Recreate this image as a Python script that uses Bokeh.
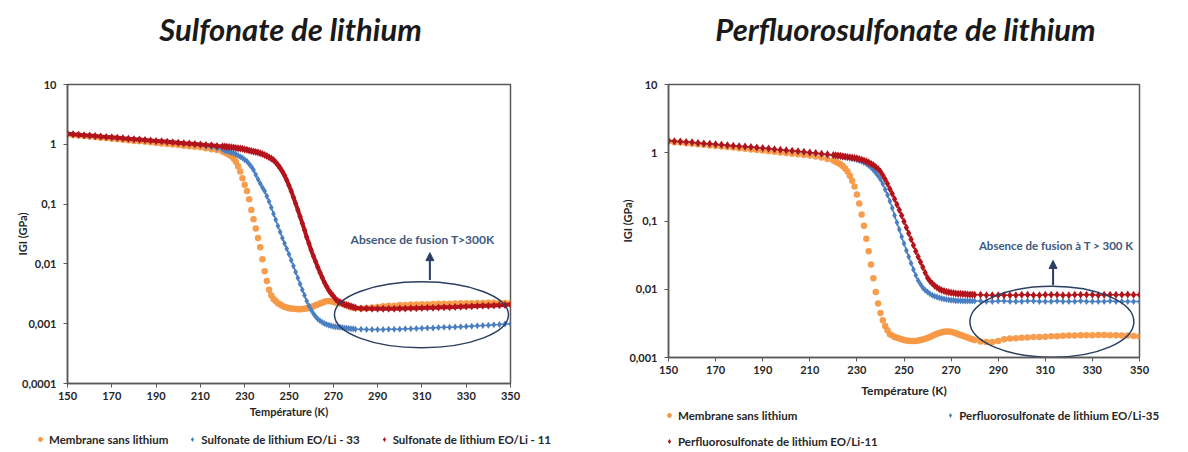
import math
from bokeh.plotting import figure
from bokeh.models import (Label, Legend, LegendItem, FixedTicker, Arrow, NormalHead,
                          ColumnDataSource, Range1d)
from bokeh.layouts import row, column
from bokeh.embed import file_html
from bokeh.resources import INLINE

FONT = "Lato"

# ---------------- data ----------------
temperature_K = (
    [150, 152.5, 155, 157.5, 160, 162.5, 165, 167.5, 170, 172.5, 175, 177.5, 180, 182.5,
     185, 187.5, 190, 192.5, 195, 197.5, 200, 202.5, 205, 207.5, 210, 212.5, 215, 217.5, 220]
    + [221, 222, 223, 224, 225, 226, 227, 228, 229, 230,
       231, 232, 233, 234, 235, 236, 237, 238, 239, 240,
       241, 242, 243, 244, 245, 246, 247, 248, 249, 250,
       251, 252, 253, 254, 255, 256, 257, 258, 259, 260,
       261, 262, 263, 264, 265, 266, 267, 268, 269, 270,
       271, 272, 273, 274, 275, 276, 277, 278, 279, 280]
    + [282.5, 285, 287.5, 290, 292.5, 295, 297.5, 300, 302.5, 305, 307.5, 310, 312.5, 315,
       317.5, 320, 322.5, 325, 327.5, 330, 332.5, 335, 337.5, 340, 342.5, 345, 347.5, 350]
)

# --- Sulfonate de lithium (left) ---
membrane_sulf = (
    [1.46, 1.43, 1.40, 1.37, 1.35, 1.32, 1.29, 1.27, 1.24, 1.22, 1.19, 1.17, 1.14, 1.12,
     1.10, 1.08, 1.05, 1.03, 1.01, 0.99, 0.97, 0.95, 0.93, 0.91, 0.89, 0.86, 0.83, 0.80, 0.76]
    + [0.73, 0.70, 0.67, 0.63, 0.58, 0.51, 0.43, 0.35, 0.27, 0.21,
       0.165, 0.12, 0.08, 0.056, 0.039, 0.027, 0.019, 0.012, 0.0075, 0.0052,
       0.0037, 0.003, 0.0026, 0.0024, 0.0022, 0.0021, 0.002, 0.0019, 0.00186, 0.00182,
       0.0018, 0.00178, 0.00176, 0.00175, 0.00175, 0.00176, 0.00178, 0.00181, 0.00185, 0.0019,
       0.00196, 0.00203, 0.0021, 0.00217, 0.00225, 0.00232, 0.00238, 0.0024, 0.00238, 0.00232,
       0.00227, 0.00223, 0.0022, 0.00215, 0.0021, 0.00203, 0.00195, 0.00188, 0.00184, 0.00182]
    + [0.0018, 0.00182, 0.00186, 0.0019, 0.00195, 0.002, 0.002, 0.00205, 0.00205, 0.0021,
       0.0021, 0.00212, 0.00212, 0.00214, 0.00215, 0.00215, 0.00216, 0.00218, 0.0022, 0.0022,
       0.0022, 0.00222, 0.00222, 0.00223, 0.00224, 0.00224, 0.00222, 0.0022]
)
sulf_eo33 = (
    [1.48, 1.46, 1.43, 1.41, 1.38, 1.36, 1.34, 1.31, 1.29, 1.27, 1.25, 1.23, 1.21, 1.19,
     1.17, 1.15, 1.13, 1.11, 1.09, 1.07, 1.05, 1.03, 1.01, 0.98, 0.96, 0.93, 0.90, 0.86, 0.82]
    + [0.79, 0.77, 0.75, 0.73, 0.71, 0.68, 0.65, 0.62, 0.59, 0.55,
       0.52, 0.47, 0.42, 0.37, 0.31, 0.26, 0.22, 0.19, 0.165, 0.135,
       0.11, 0.088, 0.069, 0.055, 0.043, 0.034, 0.027, 0.022, 0.018, 0.0145,
       0.0115, 0.0092, 0.0073, 0.0058, 0.0046, 0.0037, 0.003, 0.0024, 0.002, 0.0017,
       0.00148, 0.00132, 0.0012, 0.00112, 0.00106, 0.00101, 0.00097, 0.00094, 0.00092, 0.0009,
       0.00089, 0.00088, 0.00087, 0.00086, 0.00085, 0.00084, 0.00083, 0.00082, 0.00082, 0.00081]
    + [0.00081, 0.0008, 0.0008, 0.0008, 0.0008, 0.00081, 0.00081, 0.00081, 0.00082, 0.00082,
       0.00083, 0.00084, 0.00085, 0.00085, 0.00086, 0.00087, 0.00087, 0.00088, 0.00089, 0.0009,
       0.00091, 0.00092, 0.00093, 0.00094, 0.00096, 0.00097, 0.00099, 0.001]
)
sulf_eo11 = (
    [1.50, 1.47, 1.45, 1.42, 1.40, 1.38, 1.35, 1.33, 1.31, 1.29, 1.26, 1.24, 1.22, 1.20,
     1.18, 1.16, 1.14, 1.12, 1.10, 1.08, 1.06, 1.04, 1.03, 1.01, 0.99, 0.97, 0.96, 0.94, 0.93]
    + [0.92, 0.91, 0.90, 0.89, 0.88, 0.87, 0.86, 0.85, 0.84, 0.82,
       0.81, 0.79, 0.775, 0.76, 0.745, 0.73, 0.71, 0.69, 0.665, 0.64,
       0.61, 0.58, 0.545, 0.50, 0.45, 0.40, 0.35, 0.30, 0.25, 0.205,
       0.165, 0.13, 0.102, 0.08, 0.062, 0.048, 0.037, 0.028, 0.022, 0.017,
       0.0135, 0.011, 0.0088, 0.0072, 0.0059, 0.0049, 0.0042, 0.0036, 0.0032, 0.0029,
       0.0026, 0.0024, 0.0023, 0.0022, 0.0021, 0.00205, 0.002, 0.00195, 0.0019, 0.00185]
    + [0.0018, 0.0018, 0.00178, 0.00177, 0.00177, 0.00178, 0.00178, 0.0018, 0.0018, 0.00181,
       0.00182, 0.00183, 0.00184, 0.00185, 0.00186, 0.00188, 0.00189, 0.0019, 0.00192, 0.00193,
       0.00195, 0.00197, 0.00199, 0.002, 0.00202, 0.00204, 0.00206, 0.0021]
)

# --- Perfluorosulfonate de lithium (right) ---
membrane_perf = (
    [1.46, 1.43, 1.41, 1.38, 1.36, 1.33, 1.31, 1.28, 1.26, 1.23, 1.21, 1.19, 1.16, 1.14,
     1.12, 1.10, 1.08, 1.05, 1.03, 1.01, 0.99, 0.97, 0.95, 0.93, 0.91, 0.88, 0.85, 0.81, 0.77]
    + [0.74, 0.71, 0.68, 0.64, 0.59, 0.53, 0.46, 0.39, 0.32, 0.245,
       0.18, 0.125, 0.085, 0.055, 0.036, 0.023, 0.0145, 0.0091, 0.0062, 0.0045,
       0.0035, 0.0029, 0.0025, 0.0022, 0.0021, 0.002, 0.00195, 0.0019, 0.00185, 0.0018,
       0.00178, 0.00176, 0.00175, 0.00174, 0.00175, 0.00177, 0.0018, 0.00184, 0.00188, 0.00193,
       0.002, 0.00207, 0.00215, 0.00222, 0.00228, 0.00234, 0.00238, 0.0024, 0.0024, 0.00238,
       0.00232, 0.00226, 0.0022, 0.00214, 0.00208, 0.00202, 0.00196, 0.0019, 0.00185, 0.0018]
    + [0.00172, 0.00168, 0.00168, 0.00175, 0.00185, 0.0019, 0.00192, 0.00195, 0.00197, 0.002,
       0.002, 0.00202, 0.00205, 0.00205, 0.00208, 0.0021, 0.0021, 0.00212, 0.00212, 0.00212,
       0.00213, 0.00213, 0.00212, 0.00212, 0.0021, 0.0021, 0.00207, 0.00203]
)
perf_eo35 = (
    [1.49, 1.47, 1.45, 1.43, 1.41, 1.38, 1.36, 1.34, 1.32, 1.30, 1.28, 1.26, 1.24, 1.22,
     1.20, 1.18, 1.16, 1.14, 1.12, 1.10, 1.08, 1.06, 1.04, 1.02, 1.00, 0.98, 0.96, 0.93, 0.91]
    + [0.90, 0.89, 0.88, 0.87, 0.86, 0.85, 0.84, 0.82, 0.81, 0.79,
       0.77, 0.75, 0.72, 0.69, 0.65, 0.61, 0.56, 0.51, 0.46, 0.41,
       0.35, 0.29, 0.24, 0.195, 0.155, 0.12, 0.095, 0.075, 0.059, 0.047,
       0.037, 0.03, 0.024, 0.0195, 0.016, 0.0134, 0.0118, 0.0105, 0.0097, 0.0091,
       0.0086, 0.0082, 0.0079, 0.0077, 0.0075, 0.0073, 0.0072, 0.0071, 0.007, 0.0069,
       0.0069, 0.0068, 0.0068, 0.0068, 0.0067, 0.0067, 0.0067, 0.0067, 0.0067, 0.0067]
    + [0.0067, 0.0066, 0.0066, 0.0067, 0.0067, 0.0066, 0.0066, 0.0066, 0.0067, 0.0067,
       0.0066, 0.0066, 0.0066, 0.0067, 0.0066, 0.0066, 0.0066, 0.0067, 0.0066, 0.0066,
       0.0066, 0.0066, 0.0067, 0.0066, 0.0066, 0.0066, 0.0066, 0.0066]
)
perf_eo11 = (
    [1.50, 1.48, 1.46, 1.44, 1.42, 1.39, 1.37, 1.35, 1.33, 1.31, 1.29, 1.27, 1.25, 1.23,
     1.21, 1.19, 1.17, 1.15, 1.13, 1.11, 1.09, 1.07, 1.05, 1.03, 1.01, 0.99, 0.97, 0.95, 0.93]
    + [0.92, 0.91, 0.90, 0.89, 0.88, 0.87, 0.86, 0.85, 0.84, 0.83,
       0.81, 0.79, 0.77, 0.75, 0.72, 0.69, 0.66, 0.62, 0.58, 0.53,
       0.47, 0.41, 0.35, 0.295, 0.25, 0.21, 0.175, 0.145, 0.12, 0.098,
       0.08, 0.066, 0.054, 0.044, 0.036, 0.03, 0.025, 0.021, 0.0175, 0.0148,
       0.0132, 0.0121, 0.0113, 0.0106, 0.0101, 0.0097, 0.0094, 0.0092, 0.009, 0.0089,
       0.0088, 0.0087, 0.0086, 0.0086, 0.0085, 0.0085, 0.0084, 0.0084, 0.0084, 0.0083]
    + [0.0083, 0.0082, 0.0082, 0.0082, 0.0082, 0.0082, 0.0082, 0.0083, 0.0083, 0.0082,
       0.0082, 0.0083, 0.0083, 0.0083, 0.0082, 0.0082, 0.0083, 0.0083, 0.0083, 0.0083,
       0.0082, 0.0083, 0.0083, 0.0083, 0.0083, 0.0084, 0.0083, 0.0083]
)

x_ticks = [150, 170, 190, 210, 230, 250, 270, 290, 310, 330, 350]
y_ticks_left = [0.0001, 0.001, 0.01, 0.1, 1, 10]
y_labels_left = ["0,0001", "0,001", "0,01", "0,1", "1", "10"]
y_ticks_right = [0.001, 0.01, 0.1, 1, 10]
y_labels_right = ["0,001", "0,01", "0,1", "1", "10"]

labels_left = ["Membrane sans lithium", "Sulfonate de lithium EO/Li - 33",
               "Sulfonate de lithium EO/Li - 11"]
labels_right = ["Membrane sans lithium", "Perfluorosulfonate de lithium EO/Li-35",
                "Perfluorosulfonate de lithium EO/Li-11"]

ORANGE = "#f59845"
BLUE = "#4a7fc1"
RED = "#b3141c"
AXIS = "#595959"
TXT = "#262626"
NAVY = "#2b3f63"
ANN = "#3e5a80"

STYLES = [dict(marker="circle", size=6.5, fill_color=ORANGE, line_color=None),
          dict(marker="diamond", size=7, fill_color=BLUE, line_color=None),
          dict(marker="diamond", size=8, fill_color=RED, line_color=None)]


def strip(width, height):
    s = figure(width=width, height=height, x_range=Range1d(0, width),
               y_range=Range1d(0, height), min_border=0, title=None,
               toolbar_location=None, output_backend="svg",
               x_axis_location=None, y_axis_location=None)
    s.outline_line_color = None
    s.xgrid.visible = False
    s.ygrid.visible = False
    s.background_fill_color = "white"
    s.border_fill_color = "white"
    return s


def title_strip(width, height, text, cx):
    s = strip(width, height)
    s.add_layout(Label(x=cx, y=height / 2, x_units="screen", y_units="screen", text=text,
                       text_align="center", text_baseline="middle", text_font=FONT,
                       text_font_size="31px", text_font_style="bold italic",
                       text_color="#1a1a1a"))
    return s


def legend_strip(width, height, labels, groups):
    s = strip(width, height)
    # legend swatch proxies: one point each, parked outside the visible strip range
    proxies = [s.scatter(x=[-50], y=[-50], **st) for st in STYLES]
    for idx, loc, spacing in groups:
        items = [LegendItem(label=labels[i], renderers=[proxies[i]]) for i in idx]
        s.add_layout(Legend(items=items, location=loc, orientation="horizontal",
                            glyph_width=12, glyph_height=14, label_height=12,
                            label_standoff=3, padding=0, margin=0, spacing=spacing,
                            border_line_color=None, background_fill_alpha=0,
                            label_text_font=FONT, label_text_font_size="11.5px",
                            label_text_font_style="bold", label_text_color=TXT))
    return s


def make_chart(cfg):
    p = figure(frame_width=cfg["fw"], frame_height=cfg["fh"], title=None,
               min_border_left=cfg["bl"], min_border_right=cfg["br"],
               min_border_top=cfg["bt"], min_border_bottom=cfg["bb"],
               x_range=Range1d(150, 350), y_range=Range1d(cfg["ymin"], 10),
               y_axis_type="log", output_backend="svg", toolbar_location=None)
    p.background_fill_color = "white"
    p.border_fill_color = "white"
    p.xgrid.visible = False
    p.ygrid.visible = False
    p.outline_line_color = AXIS
    p.outline_line_width = 1.5

    p.xaxis.ticker = FixedTicker(ticks=x_ticks)
    p.yaxis.ticker = FixedTicker(ticks=cfg["yticks"])
    p.yaxis.major_label_overrides = {t: l for t, l in zip(cfg["yticks"], cfg["ylabels"])}
    for ax in (p.xaxis[0], p.yaxis[0]):
        ax.axis_line_color = AXIS
        ax.axis_line_width = 1.5
        ax.major_tick_line_color = AXIS
        ax.major_tick_line_width = 1
        ax.major_tick_in = 0
        ax.major_tick_out = 4
        ax.minor_tick_line_color = None
        ax.major_label_text_font = FONT
        ax.major_label_text_font_size = "11px"
        ax.major_label_text_font_style = "bold"
        ax.major_label_text_color = TXT
        ax.axis_label_text_font = FONT
        ax.axis_label_text_font_style = "bold"
        ax.axis_label_text_color = TXT
    p.xaxis.major_label_standoff = 4
    p.yaxis.major_label_standoff = 7
    p.xaxis.axis_label = "Température (K)"
    p.xaxis.axis_label_text_font_size = cfg["xlab_size"]
    p.xaxis.axis_label_standoff = cfg["xlab_standoff"]
    p.yaxis.axis_label = "IGI (GPa)"
    p.yaxis.axis_label_text_font_size = "11px"
    p.yaxis.axis_label_standoff = cfg["ylab_standoff"]

    src = ColumnDataSource(dict(T=temperature_K, a=cfg["series"][0],
                                b=cfg["series"][1], c=cfg["series"][2]))
    p.scatter("T", "a", source=src, fill_alpha=0.95, **STYLES[0])
    p.line("T", "b", source=src, line_color=BLUE, line_width=1.5)
    p.scatter("T", "b", source=src, **STYLES[1])
    p.line("T", "c", source=src, line_color=RED, line_width=cfg["red_lw"])
    p.scatter("T", "c", source=src, **STYLES[2])

    # annotation: ellipse, arrow, text
    ex, ey, ew, eh = cfg["ellipse"]
    p.ellipse(x=[ex], y=[ey], width=ew, height=eh, width_units="screen",
              height_units="screen", fill_color=None, line_color=NAVY, line_width=1.5)
    axx, ay0, ay1 = cfg["arrow"]
    p.add_layout(Arrow(end=NormalHead(size=8, fill_color=NAVY, line_color=NAVY),
                       x_start=axx, y_start=ay0, x_end=axx, y_end=ay1,
                       line_color=NAVY, line_width=2))
    nx, ny = cfg["note_pos"]
    p.add_layout(Label(x=nx, y=ny, text=cfg["note"], text_align="center",
                       text_baseline="middle", text_font=FONT,
                       text_font_size=cfg["note_size"],
                       text_font_style="bold", text_color=ANN))
    return p


left_chart = make_chart(dict(
    fw=443, fh=299, bl=67, br=80, bt=28, bb=44, ymin=0.0001,
    yticks=y_ticks_left, ylabels=y_labels_left,
    series=(membrane_sulf, sulf_eo33, sulf_eo11), red_lw=4,
    ylab_standoff=-10, xlab_standoff=2, xlab_size="11px",
    ellipse=(309.8, 0.00141, 174, 66), arrow=(313.6, 0.0054, 0.0154),
    note="Absence de fusion T>300K", note_pos=(310.3, 0.0258), note_size="12px",
))
right_chart = make_chart(dict(
    fw=471, fh=273, bl=78, br=47, bt=28, bb=46, ymin=0.001,
    yticks=y_ticks_right, ylabels=y_labels_right,
    series=(membrane_perf, perf_eo35, perf_eo11), red_lw=1.5,
    ylab_standoff=-8, xlab_standoff=6, xlab_size="12px",
    ellipse=(312.8, 0.00334, 164, 71), arrow=(313.3, 0.0114, 0.0264),
    note="Absence de fusion à T > 300 K", note_pos=(314.7, 0.0438), note_size="11.5px",
))

left_col = column(
    row(title_strip(590, 56, "Sulfonate de lithium", 290)),
    row(left_chart),
    row(legend_strip(590, 23, labels_left, [((0, 1, 2), (34, 4), 18)])),
)
right_col = column(
    row(title_strip(596, 56, "Perfluorosulfonate de lithium", 315)),
    row(right_chart),
    row(legend_strip(596, 46, labels_right, [((0, 1), (73, 27), 147), ((2,), (73, 1), 0)])),
)

layout = row(left_col, right_col)
open("out.html", "w").write(file_html(layout, INLINE))
